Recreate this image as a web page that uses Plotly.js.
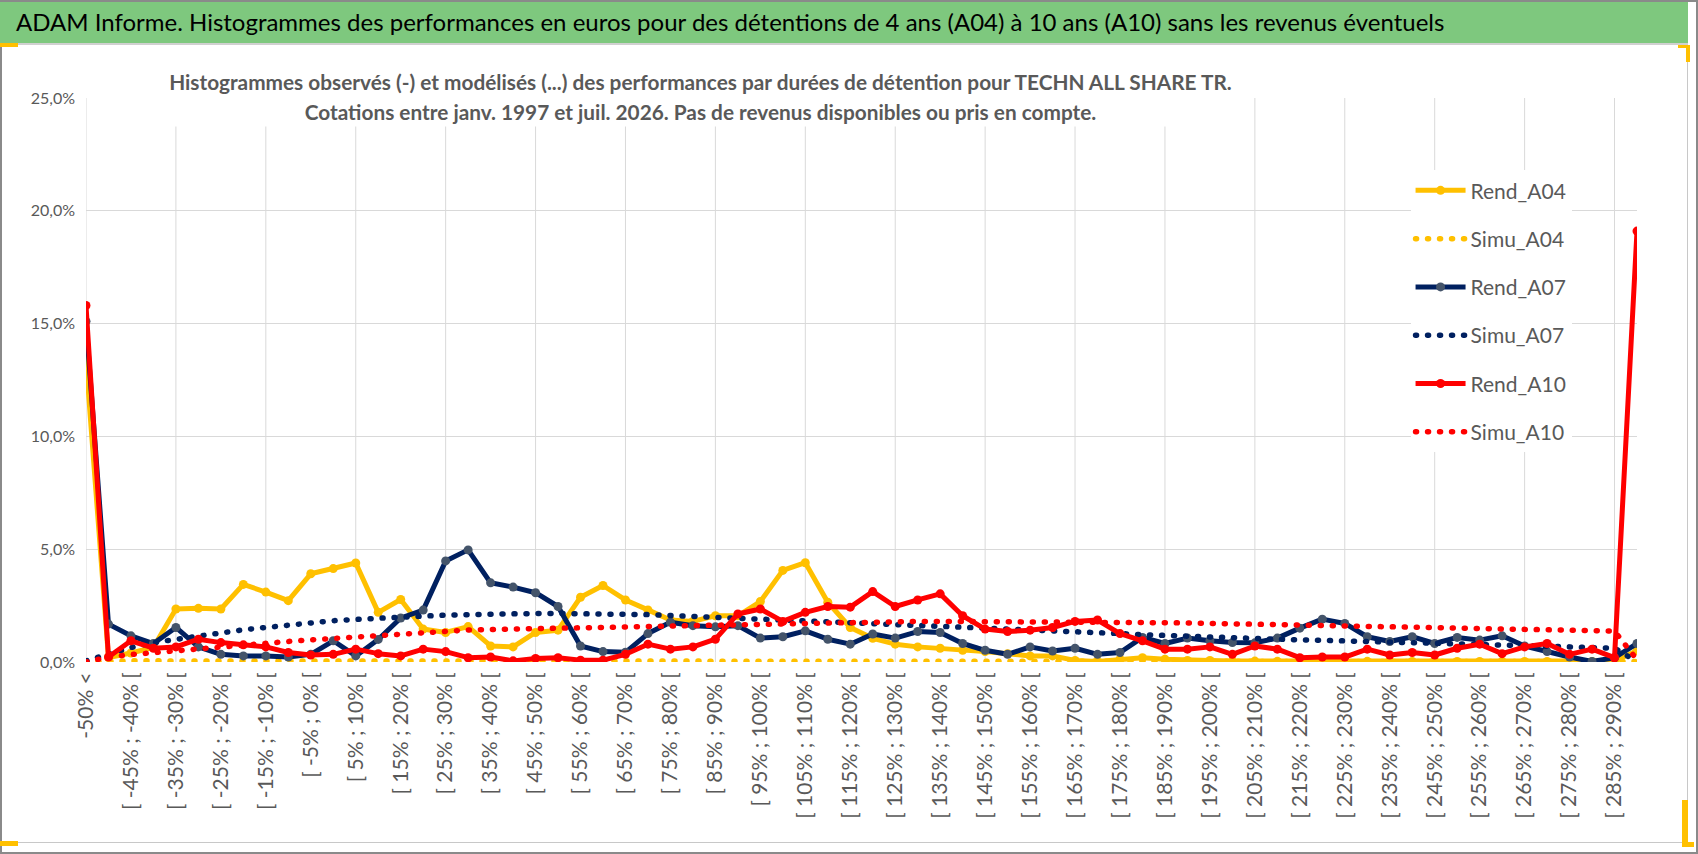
<!DOCTYPE html>
<html>
<head>
<meta charset="utf-8">
<script src="https://cdn.plot.ly/plotly-3.0.1.min.js"></script>
<style>
  body { margin: 0; background: #ffffff; }
  #wrap { position: relative; width: 1698px; height: 854px; overflow: hidden; background: #ffffff; }
  #outer { position: absolute; left: 0; top: 0; width: 1694px; height: 850px; border: 2px solid #8a8a8a; }
  #bar { position: absolute; left: 0; top: 2px; width: 1688px; height: 41px; background: #7ec87e;
         border-bottom: 2px solid #d0d0d0; }
  #frame { position: absolute; left: 0; top: 45px; width: 1687px; height: 797px;
           border-right: 1px solid #c8c8c8; border-bottom: 1px solid #c8c8c8; }
  .mark { position: absolute; background: #ffc000; }
  #chart { position: absolute; left: 0; top: 0; width: 1698px; height: 854px; }
</style>
</head>
<body>
<div id="wrap">
  <div id="outer"></div>
  <div id="bar"></div>
  <div id="frame"></div>
  <div class="mark" style="left:0;top:43px;width:18px;height:4px"></div>
  <div class="mark" style="left:1678px;top:45px;width:12px;height:3px"></div>
  <div class="mark" style="left:1686px;top:45px;width:4px;height:17px"></div>
  <div class="mark" style="left:0;top:841px;width:18px;height:5px"></div>
  <div class="mark" style="left:1682px;top:800px;width:6px;height:47px"></div>
  <div class="mark" style="left:1682px;top:842px;width:12px;height:5px"></div>
  <div id="chart"></div>
</div>
<script>
  'use strict';

  // Classes de performance (axe des catégories)
  var categories = [
    '-50% <',
    '[ -50% ; -45% [', '[ -45% ; -40% [', '[ -40% ; -35% [', '[ -35% ; -30% [',
    '[ -30% ; -25% [', '[ -25% ; -20% [', '[ -20% ; -15% [', '[ -15% ; -10% [',
    '[ -10% ; -5% [', '[ -5% ; 0% [', '[ 0% ; 5% [', '[ 5% ; 10% [',
    '[ 10% ; 15% [', '[ 15% ; 20% [', '[ 20% ; 25% [', '[ 25% ; 30% [',
    '[ 30% ; 35% [', '[ 35% ; 40% [', '[ 40% ; 45% [', '[ 45% ; 50% [',
    '[ 50% ; 55% [', '[ 55% ; 60% [', '[ 60% ; 65% [', '[ 65% ; 70% [',
    '[ 70% ; 75% [', '[ 75% ; 80% [', '[ 80% ; 85% [', '[ 85% ; 90% [',
    '[ 90% ; 95% [', '[ 95% ; 100% [', '[ 100% ; 105% [', '[ 105% ; 110% [',
    '[ 110% ; 115% [', '[ 115% ; 120% [', '[ 120% ; 125% [', '[ 125% ; 130% [',
    '[ 130% ; 135% [', '[ 135% ; 140% [', '[ 140% ; 145% [', '[ 145% ; 150% [',
    '[ 150% ; 155% [', '[ 155% ; 160% [', '[ 160% ; 165% [', '[ 165% ; 170% [',
    '[ 170% ; 175% [', '[ 175% ; 180% [', '[ 180% ; 185% [', '[ 185% ; 190% [',
    '[ 190% ; 195% [', '[ 195% ; 200% [', '[ 200% ; 205% [', '[ 205% ; 210% [',
    '[ 210% ; 215% [', '[ 215% ; 220% [', '[ 220% ; 225% [', '[ 225% ; 230% [',
    '[ 230% ; 235% [', '[ 235% ; 240% [', '[ 240% ; 245% [', '[ 245% ; 250% [',
    '[ 250% ; 255% [', '[ 255% ; 260% [', '[ 260% ; 265% [', '[ 265% ; 270% [',
    '[ 270% ; 275% [', '[ 275% ; 280% [', '[ 280% ; 285% [', '[ 285% ; 290% [',
    '> 290%'
  ];

  // Fréquences observées et modélisées (en %)
  var rendA04 = [
    13.4, 0.2, 0.4, 0.65, 2.35, 2.38, 2.35, 3.44, 3.1, 2.72,
    3.91, 4.14, 4.39, 2.2, 2.77, 1.46, 1.31, 1.57, 0.71, 0.67,
    1.31, 1.41, 2.87, 3.39, 2.75, 2.31, 1.86, 1.8, 2.05, 2.05,
    2.68, 4.06, 4.4, 2.65, 1.53, 1.05, 0.79, 0.67, 0.61, 0.52,
    0.46, 0.37, 0.27, 0.27, 0.07, 0.02, 0.12, 0.19, 0.12, 0.07,
    0.07, 0.04, 0.04, 0.03, 0.02, 0.03, 0.02, 0.03, 0.02, 0.02,
    0.03, 0.02, 0.02, 0.03, 0.02, 0.02, 0.03, 0.02, 0.04, 0.5
  ];
  var simuA04 = [
    0.0, 0.05, 0.05, 0.05, 0.05, 0.05, 0.05, 0.05, 0.05, 0.05,
    0.05, 0.05, 0.05, 0.05, 0.05, 0.05, 0.05, 0.05, 0.05, 0.05,
    0.05, 0.05, 0.05, 0.05, 0.05, 0.05, 0.05, 0.05, 0.05, 0.05,
    0.05, 0.05, 0.05, 0.05, 0.05, 0.05, 0.05, 0.05, 0.05, 0.04,
    0.04, 0.04, 0.04, 0.04, 0.04, 0.04, 0.04, 0.04, 0.04, 0.04,
    0.04, 0.04, 0.04, 0.04, 0.04, 0.04, 0.04, 0.04, 0.04, 0.04,
    0.04, 0.04, 0.04, 0.04, 0.04, 0.04, 0.04, 0.04, 0.04, 0.02
  ];
  var rendA07 = [
    15.1, 1.68, 1.16, 0.82, 1.53, 0.67, 0.34, 0.27, 0.27, 0.22,
    0.34, 0.94, 0.27, 1.0, 1.95, 2.3, 4.48, 4.97, 3.51, 3.32,
    3.07, 2.46, 0.71, 0.46, 0.43, 1.26, 1.76, 1.61, 1.56, 1.61,
    1.06, 1.12, 1.38, 1.01, 0.79, 1.24, 1.06, 1.35, 1.31, 0.82,
    0.52, 0.34, 0.67, 0.49, 0.61, 0.34, 0.42, 1.09, 0.82, 1.06,
    0.94, 0.86, 0.85, 1.06, 1.5, 1.9, 1.71, 1.12, 0.91, 1.12,
    0.82, 1.09, 0.97, 1.16, 0.71, 0.46, 0.22, 0.02, 0.19, 0.82
  ];
  var simuA07 = [
    0.05, 0.37, 0.64, 0.86, 1.01, 1.16, 1.31, 1.43, 1.53, 1.64,
    1.74, 1.83, 1.89, 1.95, 2.0, 2.05, 2.08, 2.1, 2.13, 2.14,
    2.15, 2.15, 2.15, 2.14, 2.13, 2.1, 2.06, 2.02, 1.98, 1.95,
    1.9, 1.86, 1.82, 1.8, 1.78, 1.75, 1.71, 1.66, 1.61, 1.56,
    1.51, 1.47, 1.43, 1.39, 1.35, 1.3, 1.26, 1.21, 1.17, 1.13,
    1.09, 1.06, 1.03, 1.0, 0.98, 0.96, 0.94, 0.92, 0.89, 0.87,
    0.84, 0.81, 0.79, 0.76, 0.73, 0.7, 0.67, 0.64, 0.61, 0.02
  ];
  var rendA10 = [
    15.8, 0.22, 0.94, 0.61, 0.67, 1.01, 0.86, 0.76, 0.67, 0.42,
    0.31, 0.34, 0.57, 0.37, 0.27, 0.57, 0.46, 0.19, 0.22, 0.05,
    0.16, 0.19, 0.08, 0.08, 0.34, 0.79, 0.57, 0.67, 1.01, 2.13,
    2.35, 1.8, 2.2, 2.46, 2.43, 3.12, 2.46, 2.75, 3.02, 2.05,
    1.46, 1.35, 1.41, 1.53, 1.8, 1.86, 1.26, 0.94, 0.57, 0.57,
    0.67, 0.34, 0.71, 0.57, 0.19, 0.22, 0.22, 0.57, 0.31, 0.42,
    0.31, 0.61, 0.79, 0.37, 0.67, 0.82, 0.34, 0.57, 0.19, 19.1
  ];
  var simuA10 = [
    0.0, 0.22, 0.33, 0.42, 0.5, 0.58, 0.67, 0.76, 0.84, 0.91,
    0.98, 1.05, 1.1, 1.16, 1.22, 1.29, 1.36, 1.42, 1.44, 1.46,
    1.48, 1.5, 1.53, 1.55, 1.58, 1.6, 1.62, 1.65, 1.67, 1.7,
    1.72, 1.74, 1.76, 1.78, 1.79, 1.8, 1.8, 1.8, 1.8, 1.8,
    1.79, 1.79, 1.78, 1.78, 1.77, 1.76, 1.76, 1.75, 1.74, 1.73,
    1.72, 1.7, 1.68, 1.66, 1.64, 1.62, 1.6, 1.58, 1.56, 1.54,
    1.52, 1.5, 1.49, 1.47, 1.45, 1.43, 1.41, 1.39, 1.37, 0.1
  ];

  var yTicks = [0, 5, 10, 15, 20, 25];
  var yTickText = ['0,0%', '5,0%', '10,0%', '15,0%', '20,0%', '25,0%'];

  var YELLOW = '#ffc000';
  var NAVY = '#002060';
  var NAVY_MARKER = '#44546a';
  var RED = '#ff0000';
  var GRID = '#d9d9d9';
  var TEXT = '#595959';
  var FONT = 'Lato, "Open Sans", sans-serif';
  var DOTS = '1px,11px';

  function observed(name, values, color, markerColor) {
    return {
      x: categories, y: values, name: name, legendgroup: name,
      type: 'scatter', mode: 'lines+markers',
      line: { color: color, width: 5 },
      marker: { color: markerColor, size: 9, line: { width: 0 } },
      hoverinfo: 'skip'
    };
  }

  function modelled(name, values, color) {
    return {
      x: categories, y: values, name: name, legendgroup: name,
      type: 'scatter', mode: 'lines',
      line: { color: color, width: 5.5, dash: DOTS },
      hoverinfo: 'skip'
    };
  }

  var traces = [
    observed('Rend_A04', rendA04, YELLOW, YELLOW),
    modelled('Simu_A04', simuA04, YELLOW),
    observed('Rend_A07', rendA07, NAVY, NAVY_MARKER),
    modelled('Simu_A07', simuA07, NAVY),
    observed('Rend_A10', rendA10, RED, RED),
    modelled('Simu_A10', simuA10, RED)
  ];

  // Labels every 2nd class, vertical grid every 4th class
  var labelVals = categories.filter(function (c, i) { return i % 2 === 0; });
  var gridShapes = categories.filter(function (c, i) { return i % 4 === 0; }).map(function (c) {
    return {
      type: 'line', xref: 'x', yref: 'y', x0: c, x1: c,
      y0: yTicks[0], y1: yTicks[yTicks.length - 1],
      line: { color: GRID, width: 1 }, layer: 'below'
    };
  });

  var layout = {
    width: 1698,
    height: 854,
    autosize: false,
    paper_bgcolor: 'rgba(0,0,0,0)',
    plot_bgcolor: 'rgba(0,0,0,0)',
    font: { family: FONT, color: TEXT },
    margin: { l: 86, r: 61, t: 98, b: 192, pad: 0 },
    title: {
      text: 'ADAM Informe. Histogrammes des performances en euros pour des détentions de 4 ans (A04) à 10 ans (A10) sans les revenus éventuels',
      font: { family: FONT, size: 24, color: '#000000' },
      xref: 'container', yref: 'container',
      x: 16 / 1698, xanchor: 'left', y: 1 - 23 / 854, yanchor: 'middle'
    },
    xaxis: {
      type: 'category',
      categoryorder: 'array',
      categoryarray: categories,
      range: [0, categories.length - 1],
      tickmode: 'array',
      tickvals: labelVals,
      ticktext: labelVals,
      tickangle: -90,
      ticks: '',
      ticklabelstandoff: 5,
      tickfont: { family: FONT, size: 21, color: TEXT },
      showgrid: false,
      showline: false,
      zeroline: false,
      fixedrange: true
    },
    yaxis: {
      range: [yTicks[0], yTicks[yTicks.length - 1]],
      tickmode: 'array',
      tickvals: yTicks,
      ticktext: yTickText,
      ticks: '',
      ticklabelstandoff: 10,
      tickfont: { family: FONT, size: 16, color: TEXT },
      showgrid: true,
      gridcolor: GRID,
      gridwidth: 1,
      showline: false,
      zeroline: false,
      fixedrange: true
    },
    legend: {
      x: 0.854, y: 0.872, xanchor: 'left', yanchor: 'top',
      bgcolor: '#ffffff',
      borderwidth: 0,
      font: { family: FONT, size: 21, color: TEXT },
      itemwidth: 50,
      tracegroupgap: 18,
      traceorder: 'grouped'
    },
    shapes: gridShapes,
    annotations: [
      {
        text: '<b>Histogrammes observés (-) et modélisés (...) des performances par durées de détention pour TECHN ALL SHARE TR.</b>',
        xref: 'paper', yref: 'paper', x: 0.396, y: 1.030,
        xanchor: 'center', yanchor: 'middle', showarrow: false,
        width: 1085, height: 30, bgcolor: '#ffffff', borderpad: 0,
        font: { family: FONT, size: 20.8, color: TEXT }
      },
      {
        text: '<b>Cotations entre janv. 1997 et juil. 2026. Pas de revenus disponibles ou pris en compte.</b>',
        xref: 'paper', yref: 'paper', x: 0.396, y: 0.977,
        xanchor: 'center', yanchor: 'middle', showarrow: false,
        width: 1085, height: 30, bgcolor: '#ffffff', borderpad: 0,
        font: { family: FONT, size: 20.8, color: TEXT }
      }
    ]
  };

  var config = { staticPlot: true, displayModeBar: false };

  Plotly.newPlot('chart', traces, layout, config).then(function (gd) {
    // Round dots and joins, closer to the spreadsheet look
    var paths = gd.querySelectorAll('.scatterlayer path.js-line, .legend path.js-line');
    Array.prototype.forEach.call(paths, function (p) {
      p.style.strokeLinejoin = 'round';
      var d = p.style.strokeDasharray;
      if (d && d !== 'none') {
        p.style.strokeLinecap = 'round';
      }
    });
  });
</script>
</body>
</html>
